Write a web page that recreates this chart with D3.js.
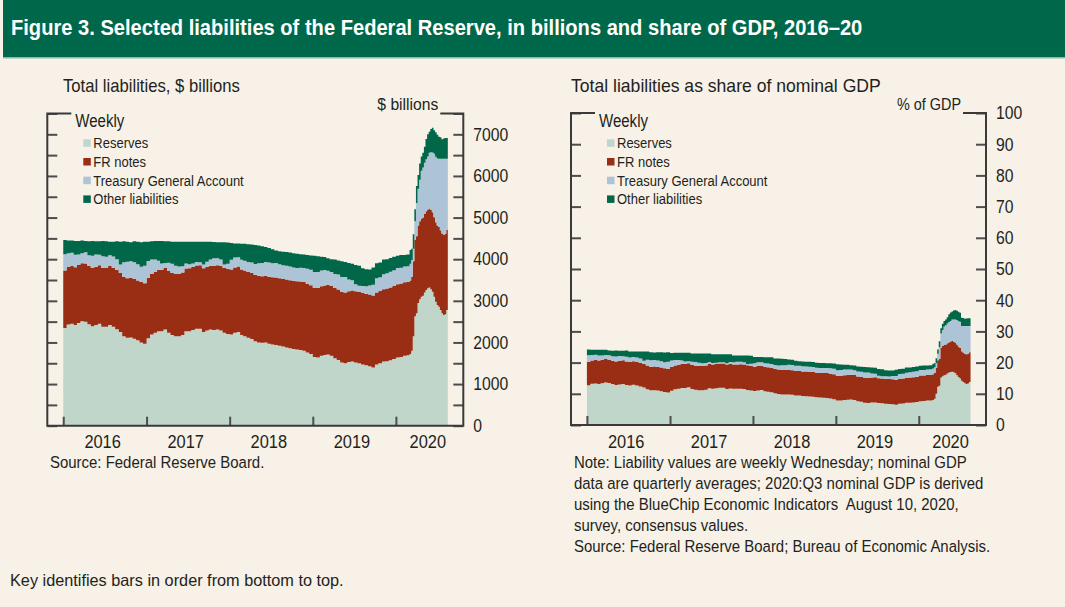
<!DOCTYPE html>
<html>
<head>
<meta charset="utf-8">
<script src="https://cdn.jsdelivr.net/npm/d3@7"></script>
<style>
  body { margin: 0; background: #f7f1e7; }
  svg { display: block; font-family: "Liberation Sans", Arial, Helvetica, sans-serif; }
  text { white-space: pre; }
</style>
</head>
<body>
<svg id="chart" width="1065" height="607"></svg>
<script>
// ---- data, $ billions ----
var seriesKeys = ["reserves", "frNotes", "tga", "other"]
var seriesNames = ["Reserves", "FR notes", "Treasury General Account", "Other liabilities"]
var colors = ["#c1d6cb", "#9a2e14", "#adc4d7", "#006848"]

// periods: half-months Jan 2016 - Feb 2020, then weeks (Sun start) Mar 1 - Aug 9 2020
var halfMonthStart = "2016-01-01", halfMonthStop = "2020-03-01"
var weekStart = "2020-03-01", weekStop = "2020-08-16"

var reserves = [
  2350,2430, 2450,2420, 2470,2510, 2500,2440, 2390,2420, 2450,2380, 2380,2420, 2380,2320, 2250,2150, 2110,2120, 2090,2050, 2000,1970, // 2016
  2100,2190, 2230,2270, 2270,2310, 2230,2180, 2150,2150, 2180,2270, 2270,2300, 2330,2330, 2250,2290, 2310,2300, 2310,2290, 2230,2200, // 2017
  2190,2230, 2250,2180, 2150,2110, 2080,2030, 2000,1990, 2000,1970, 1950,1940, 1920,1900, 1880,1860, 1840,1830, 1820,1800, 1760,1720, // 2018
  1650,1640, 1680,1700, 1710,1680, 1620,1580, 1520,1500, 1530,1540, 1520,1500, 1470,1450, 1430,1400, 1470,1500, 1540,1550, 1570,1600, // 2019
  1640,1650, 1680,1690,                                                                                                               // 2020 Jan-Feb
  1720,1800,2150,2630,2700,2950,3040,3100,3120,3200,3260,3300,3320,3280,3220,3100,2980,2900,2860,2780,2700,2660,2680,2780              // weekly
]
var frNotes = [
  1380,1380, 1385,1385, 1390,1390, 1395,1395, 1400,1400, 1405,1410, 1410,1415, 1415,1420, 1420,1425, 1430,1430, 1435,1440, 1450,1455,
  1455,1460, 1465,1470, 1475,1480, 1485,1490, 1495,1495, 1500,1505, 1510,1515, 1520,1525, 1530,1530, 1535,1540, 1545,1550, 1560,1570,
  1565,1570, 1575,1575, 1580,1585, 1590,1595, 1600,1600, 1605,1610, 1615,1620, 1620,1625, 1630,1635, 1640,1640, 1645,1650, 1650,1655,
  1660,1665, 1670,1670, 1675,1680, 1685,1690, 1695,1700, 1700,1705, 1710,1710, 1715,1720, 1720,1725, 1730,1735, 1740,1745, 1750,1755,
  1760,1765, 1765,1770,
  1770,1780,1800,1830,1850,1860,1870,1875,1880,1885,1890,1895,1900,1900,1905,1905,1910,1910,1915,1915,1920,1920,1925,1925
]
var tga = [
  390,330, 320,300, 250,240, 270,260, 290,290, 250,280, 270,260, 270,260, 200,350, 400,400, 400,390, 370,420,
  400,340, 300,220, 150,120, 200,220, 200,180, 150,120, 100,80, 80,70, 90,120, 150,180, 170,150, 80,120,
  230,240, 220,230, 230,240, 250,260, 300,320, 330,340, 340,350, 340,330, 330,330, 320,320, 330,340, 360,370,
  380,390, 380,370, 340,330, 340,360, 360,370, 280,250, 170,150, 170,180, 220,260, 340,330, 360,370, 380,380,
  390,380, 380,370,
  400,400,300,450,800,880,1000,1150,1200,1230,1250,1270,1340,1390,1440,1530,1570,1610,1640,1720,1790,1830,1810,1710
]
var other = [
  340,310, 295,335, 330,310, 275,335, 360,320, 325,370, 370,325, 355,430, 550,505, 480,460, 505,540, 590,575,
  465,440, 445,480, 545,520, 515,530, 575,595, 590,525, 540,525, 490,495, 550,480, 425,395, 385,420, 540,510,
  405,340, 335,385, 410,425, 430,455, 430,400, 355,350, 335,300, 310,325, 330,335, 340,340, 325,320, 330,345,
  390,375, 330,310, 295,310, 345,340, 375,360, 400,395, 460,480, 425,410, 380,415, 360,355, 350,335, 330,325,
  290,305, 275,280,
  330,270,350,290,410,330,390,345,360,385,490,535,500,560,595,565,590,570,525,515,470,490,495,495
]

// nominal GDP, quarterly averages, $ billions (2020:Q3 BlueChip consensus)
var gdpQuarters = ["2016-01-01","2016-04-01","2016-07-01","2016-10-01","2017-01-01","2017-04-01","2017-07-01","2017-10-01",
  "2018-01-01","2018-04-01","2018-07-01","2018-10-01","2019-01-01","2019-04-01","2019-07-01","2019-10-01",
  "2020-01-01","2020-04-01","2020-07-01"]
var gdp = [18425,18611,18776,18968, 19149,19300,19522,19829, 20113,20396,20601,20747, 20983,21237,21499,21695, 21481,19408,20200]

var years = [2016, 2017, 2018, 2019, 2020]
var leftTicks = [0, 1000, 2000, 3000, 4000, 5000, 6000, 7000]
var rightTicks = [0, 10, 20, 30, 40, 50, 60, 70, 80, 90, 100]

var notes = [
  "Note: Liability values are weekly Wednesday; nominal GDP",
  "data are quarterly averages; 2020:Q3 nominal GDP is derived",
  "using the BlueChip Economic Indicators  August 10, 2020,",
  "survey, consensus values.",
  "Source: Federal Reserve Board; Bureau of Economic Analysis."
]

// ---- build rows ----
var parse = d3.timeParse("%Y-%m-%d")
var halfMonths = d3.timeMonth.range(parse(halfMonthStart), parse(halfMonthStop))
  .flatMap(m => [m, new Date(m.getFullYear(), m.getMonth(), 16)])
var weeks = d3.timeWeek.range(parse(weekStart), parse(weekStop))
var periods = halfMonths.concat(weeks)

var rows = periods.map((d, i) => ({date: d, reserves: reserves[i], frNotes: frNotes[i], tga: tga[i], other: other[i]}))
// close the last step at the end of the final week
rows.push(Object.assign({}, rows[rows.length - 1], {date: parse(weekStop)}))

var qDates = gdpQuarters.map(parse)
var shareRows = rows.map(r => {
  var q = d3.bisectRight(qDates, r.date) - 1
  var o = {date: r.date}
  seriesKeys.forEach(k => o[k] = r[k] / gdp[q] * 100)
  return o
})

var svg = d3.select("#chart")
var ink = "#231f20"

// text helpers: the original uses a condensed face, so squeeze Liberation Sans horizontally
var measurer = svg.append("text").attr("visibility", "hidden")
function measure(str, size, weight) {
  measurer.attr("font-size", size).attr("font-weight", weight || "normal").text(str)
  return measurer.node().getComputedTextLength()
}
function fit(str, size, width, weight) { return width / measure(str, size, weight) }
function label(parent, x, y, str, size, sx, anchor, weight) {
  return parent.append("text")
    .attr("transform", "translate(" + x + "," + y + ") scale(" + sx + ",1)")
    .attr("text-anchor", anchor || "start")
    .attr("font-size", size).attr("font-weight", weight || "normal")
    .attr("fill", ink).text(str)
}

var sxLegend = fit("Treasury General Account", 15.5, 150.5)
var sxTick = fit("7000", 18, 35)
var sxYear = fit("2016", 18.5, 36.5)
var sxNote = fit(notes[0], 16.5, 393)

// title bar
svg.append("rect").attr("x", 3).attr("y", 0).attr("width", 1062).attr("height", 57).attr("fill", "#00684a")
svg.append("rect").attr("x", 3).attr("y", 57).attr("width", 1062).attr("height", 1.5).attr("fill", "#8fb5a3")
var title = "Figure 3. Selected liabilities of the Federal Reserve, in billions and share of GDP, 2016\u201320"
label(svg, 11, 35, title, 22.5, fit(title, 22.5, 852, "bold"), "start", "bold").attr("fill", "white")

function drawPanel(opts) {
  var g = svg.append("g")
  var x = d3.scaleTime().domain([parse("2015-10-23"), parse("2020-10-23")]).range([opts.x0, opts.x1])
  var y = d3.scaleLinear().domain([0, opts.max]).range([opts.yBottom, opts.yTop])

  var stacked = d3.stack().keys(seriesKeys)(opts.rows)
  var area = d3.area()
    .curve(d3.curveStepAfter)
    .x(d => x(d.data.date))
    .y0(d => y(d[0]))
    .y1(d => y(d[1]))

  g.append("g").selectAll("path")
    .data(stacked)
    .join("path")
    .attr("fill", (d, i) => colors[i])
    .attr("d", area)

  // inward ticks on both sides
  var minor = d3.range(0, opts.max + 1, opts.minorStep)
  g.append("g").attr("transform", "translate(" + opts.x0 + ",0)")
    .call(d3.axisRight(y).tickValues(minor).tickSize(10).tickFormat(""))
  g.append("g").attr("transform", "translate(" + opts.x1 + ",0)")
    .call(d3.axisLeft(y).tickValues(minor).tickSize(10).tickFormat(""))
  // year ticks
  g.append("g").attr("transform", "translate(0," + opts.yBottom + ")")
    .call(d3.axisTop(x).tickValues(years.map(yr => new Date(yr, 0, 1))).tickSize(9).tickFormat(""))
  g.selectAll(".domain").remove()
  g.selectAll(".tick line").attr("stroke", "#4d4d4d").attr("stroke-width", 2)

  // value labels on the right
  opts.labels.forEach(v => label(g, opts.x1 + 10, y(v) + 6.3, String(v), 18, sxTick))

  // year labels
  years.forEach(yr => {
    var mid = yr < 2020 ? new Date(yr, 5, 22) : new Date(yr, 4, 20)
    label(g, x(mid), 447.5, String(yr), 18.5, sxYear, "middle")
  })

  // frame, top edge broken by the key and unit labels
  var frame = d3.path()
  frame.moveTo(opts.x0 + 24, opts.yTop); frame.lineTo(opts.x0, opts.yTop)
  frame.lineTo(opts.x0, opts.yBottom); frame.lineTo(opts.x1, opts.yBottom)
  frame.lineTo(opts.x1, opts.yTop); frame.lineTo(opts.x1 - 23, opts.yTop)
  g.append("path").attr("d", frame.toString()).attr("fill", "none").attr("stroke", "#3a3a3a").attr("stroke-width", 2)

  label(g, opts.x1 - 25, 110, opts.unit, 17, fit(opts.unit, 17, opts.unitW), "end")
  label(g, opts.subX, 91.5, opts.subtitle, 19, fit(opts.subtitle, 19, opts.subW))

  // legend
  label(g, opts.x0 + 28, 126.5, "Weekly", 18, fit("Weekly", 18, 49))
  var leg = g.append("g").attr("transform", "translate(" + (opts.x0 + 36) + ",0)")
  seriesNames.forEach((name, i) => {
    var cy = 143 + i * 18.7
    leg.append("rect").attr("x", 0).attr("y", cy - 3.7).attr("width", 7.5).attr("height", 7.5).attr("fill", colors[i])
    label(leg, 10, cy + 5.3, name, 15.5, sxLegend)
  })
  return g
}

drawPanel({x0: 47.3, x1: 463.3, yTop: 113.5, yBottom: 425.7, max: 7500, minorStep: 500, labels: leftTicks,
  rows: rows, unit: "$ billions", unitW: 61, subtitle: "Total liabilities, $ billions", subX: 63, subW: 177})
drawPanel({x0: 571, x1: 986, yTop: 113, yBottom: 425, max: 100, minorStep: 10, labels: rightTicks,
  rows: shareRows, unit: "% of GDP", unitW: 64, subtitle: "Total liabilities as share of nominal GDP", subX: 571, subW: 310})

label(svg, 50, 468, "Source: Federal Reserve Board.", 16.5, sxNote)
notes.forEach((line, i) => label(svg, 574, 468 + i * 21, line, 16.5, sxNote))
var keyText = "Key identifies bars in order from bottom to top."
label(svg, 10, 586, keyText, 16.5, fit(keyText, 16.5, 334))
measurer.remove()
</script>
</body>
</html>
